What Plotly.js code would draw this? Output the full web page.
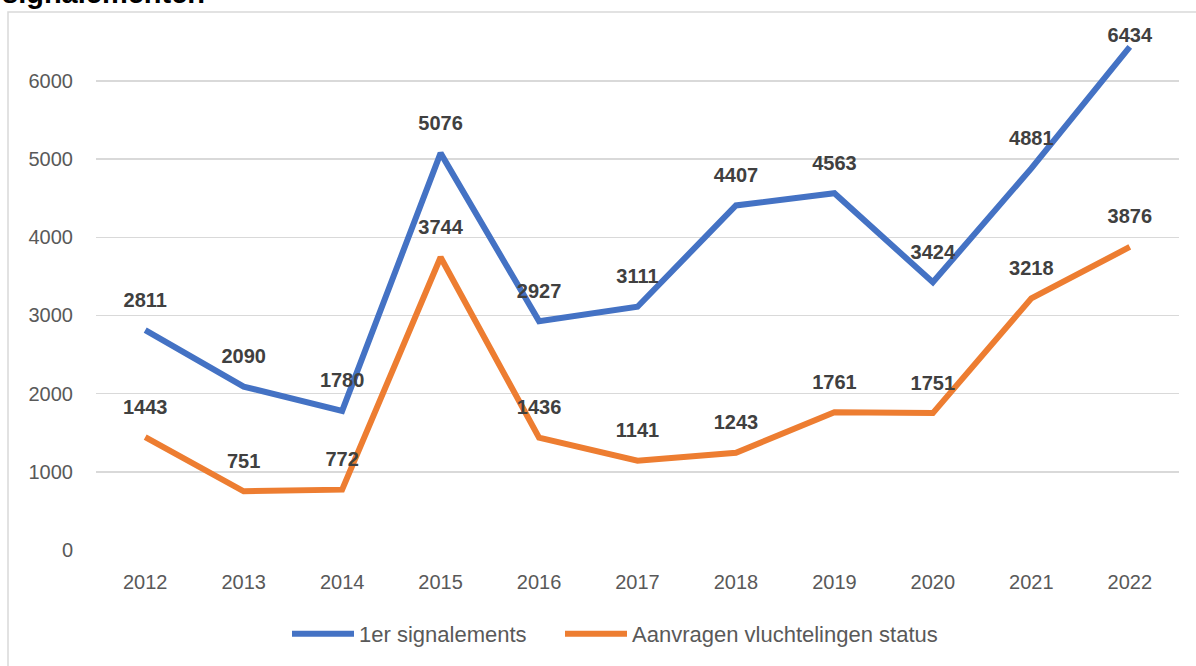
<!DOCTYPE html>
<html>
<head>
<meta charset="utf-8">
<script src="https://cdn.plot.ly/plotly-3.0.1.min.js"></script>
<style>html,body{margin:0;padding:0;background:#fff;}#chart{width:1196px;height:666px;}</style>
</head>
<body>
<div id="chart"></div>
<script>
const years = ["2012","2013","2014","2015","2016","2017","2018","2019","2020","2021","2022"];
const signalements = [2811, 2090, 1780, 5076, 2927, 3111, 4407, 4563, 3424, 4881, 6434];
const aanvragen = [1443, 751, 772, 3744, 1436, 1141, 1243, 1761, 1751, 3218, 3876];
const seriesNames = ["1er signalements", "Aanvragen vluchtelingen status"];
const chartTitle = "signalementen";

const W = 1196, H = 666;
const L = 96, R = 17, T = 12, B = 115;
const pw = W - L - R, ph = H - T - B;
const px2x = p => (p - L) / pw;
const py2y = p => (H - B - p) / ph;

const FONT = 'Liberation Sans, Arial, sans-serif';
const labelFont = {family: FONT, size: 20, color: '#404040', weight: 'bold'};

function lineTrace(y, name, color, legendId) {
  return {x: years, y: y, name: name, type: 'scatter', mode: 'lines', legend: legendId,
    line: {color: color, width: 6}, hoverinfo: 'skip'};
}
// label offset above each point is controlled by an invisible marker size;
// the topmost label is pulled closer to stay inside the frame, as in the source
function labelTrace(y, topInside) {
  const sizes = y.map((v, i) => (topInside && i === y.length - 1) ? 0 : 28);
  return {x: years, y: y, type: 'scatter', mode: 'markers+text', showlegend: false,
    text: y.map(v => '<b>' + v + '</b>'), textposition: 'top center', textfont: labelFont,
    marker: {size: sizes, opacity: 0, color: 'rgba(0,0,0,0)'}, hoverinfo: 'skip', cliponaxis: false};
}

const traces = [
  lineTrace(signalements, seriesNames[0], '#4472C4', 'legend'),
  lineTrace(aanvragen, seriesNames[1], '#ED7D31', 'legend2'),
  labelTrace(signalements, true),
  labelTrace(aanvragen, false)
];

const legendFont = {family: FONT, size: 22, color: '#595959'};
const layout = {
  width: W, height: H,
  margin: {l: L, r: R, t: T, b: B, pad: 0},
  paper_bgcolor: '#fff', plot_bgcolor: '#fff',
  showlegend: true,
  legend: {orientation: 'h', x: px2x(287), xanchor: 'left', y: py2y(634), yanchor: 'middle',
    font: legendFont, itemwidth: 62, bgcolor: 'rgba(0,0,0,0)'},
  legend2: {orientation: 'h', x: px2x(560), xanchor: 'left', y: py2y(634), yanchor: 'middle',
    font: legendFont, itemwidth: 62, bgcolor: 'rgba(0,0,0,0)'},
  xaxis: {type: 'category', range: [-0.5, 10.5], showgrid: false, zeroline: false, showline: false,
    ticks: '', ticklabelstandoff: 18,
    tickfont: {family: FONT, size: 20, color: '#595959'}},
  yaxis: {range: [0, (H - B - T) / (470 / 6000)], tickvals: [0,1000,2000,3000,4000,5000,6000],
    showgrid: true, gridcolor: '#d9d9d9', gridwidth: 1.5, zeroline: false, showline: false,
    ticks: '', ticklabelstandoff: 22,
    tickfont: {family: FONT, size: 20, color: '#595959'}},
  shapes: [{type: 'rect', xref: 'paper', yref: 'paper', x0: px2x(8), x1: px2x(1210), y0: py2y(12), y1: py2y(690),
    line: {color: '#d9d9d9', width: 1.5}, fillcolor: 'rgba(0,0,0,0)', layer: 'below'}],
  annotations: [{xref: 'paper', yref: 'paper', x: px2x(0), y: py2y(-7), xanchor: 'left', yanchor: 'middle',
    text: '<b>' + chartTitle + '</b>', showarrow: false, font: {family: FONT, size: 29, color: '#000'}}]
};

Plotly.newPlot('chart', traces, layout, {displayModeBar: false, staticPlot: true});
</script>
</body>
</html>
